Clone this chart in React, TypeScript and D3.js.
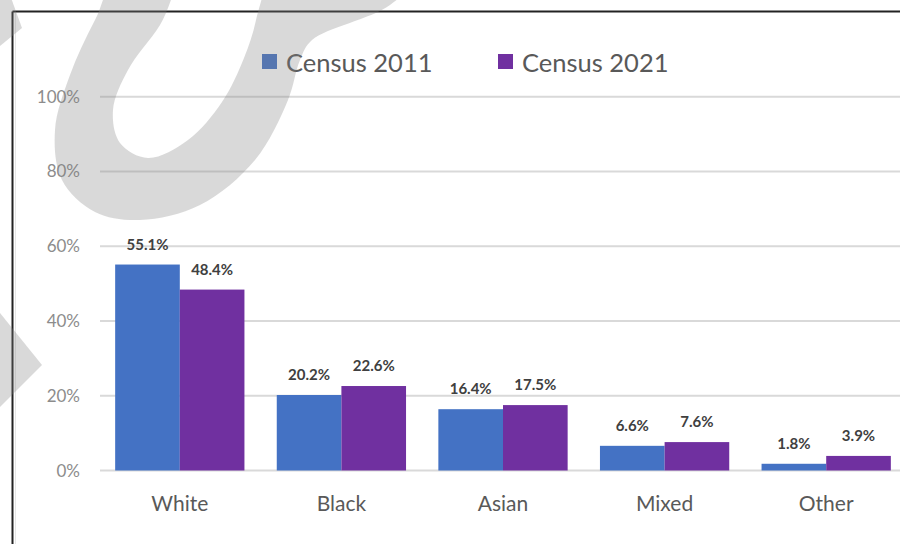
import React from "react";
import * as d3 from "d3";

const categories = ["White", "Black", "Asian", "Mixed", "Other"];
const series2011 = [55.1, 20.2, 16.4, 6.6, 1.8];
const series2021 = [48.4, 22.6, 17.5, 7.6, 3.9];
const seriesNames = ["Census 2011", "Census 2021"];
const seriesColors = ["#4472C4", "#7030A0"];
const yTicks = [0, 20, 40, 60, 80, 100];

// decorative watermark outlines (not data)
const wmOuter: [number, number][] = [
  [125, -30], [95, 20], [70, 75], [55, 130], [62, 180], [95, 212], [140, 220],
  [200, 205], [255, 160], [288, 100], [300, 60], [312, 40], [390, 5], [420, -30],
];
const wmHole: [number, number][] = [
  [190, -30], [160, 25], [128, 70], [113, 110], [120, 143], [148, 158], [188, 140],
  [222, 102], [244, 58], [256, 20], [262, -30],
];

const W = 900;
const H = 544;
const font = "Lato, 'Open Sans', sans-serif";

export default function App() {
  const x0 = d3.scaleBand<string>().domain(categories).range([99, 907]).paddingInner(0.2).paddingOuter(0.1);
  const x1 = d3.scaleBand<string>().domain(seriesNames).range([0, x0.bandwidth()]);
  const y = d3.scaleLinear().domain([0, 100]).range([470.5, 96.7]);
  const data = [series2011, series2021];
  const closed = d3.line().curve(d3.curveCatmullRomClosed);

  return (
    <svg width={W} height={H} style={{ position: "absolute", left: 0, top: 0, background: "#fff" }}>
      <rect x={0} y={0} width={W} height={H} fill="#fff" />
      {/* frame */}
      <line x1={12.5} x2={W} y1={11.5} y2={11.5} stroke="#222" strokeWidth={2} />
      <line x1={12.5} x2={12.5} y1={11.5} y2={H} stroke="#222" strokeWidth={2} />
      <line x1={15.5} x2={15.5} y1={13} y2={H} stroke="#e6e6e6" strokeWidth={1} />
      {/* gridlines */}
      {yTicks.map((t) => (
        <g key={t}>
          <line x1={100} x2={W} y1={y(t)} y2={y(t)} stroke="#d9d9d9" strokeWidth={2} />
          <text x={80} y={y(t) + 6} textAnchor="end" fontFamily={font} fontSize={17} fill="#8c8c8c">
            {t}%
          </text>
        </g>
      ))}
      {/* bars */}
      {categories.map((c, i) => (
        <g key={c} transform={`translate(${x0(c)},0)`}>
          {data.map((s, j) => {
            const bx = x1(seriesNames[j])!;
            const top = y(s[i]);
            return (
              <g key={j}>
                <rect x={bx} y={top} width={x1.bandwidth()} height={y(0) - top} fill={seriesColors[j]} />
                <text x={bx + x1.bandwidth() / 2} y={top - 15} textAnchor="middle" fontFamily={font}
                  fontSize={15} fontWeight={700} fill="#404040">
                  {s[i].toFixed(1)}%
                </text>
              </g>
            );
          })}
          <text x={x0.bandwidth() / 2} y={511} textAnchor="middle" fontFamily={font} fontSize={21} fill="#595959">
            {c}
          </text>
        </g>
      ))}
      {/* legend */}
      {seriesNames.map((n, j) => (
        <g key={n} transform={`translate(${262 + j * 236},0)`}>
          <rect x={0} y={54} width={15} height={15} fill={seriesColors[j]} />
          <text x={24} y={72} fontFamily={font} fontSize={25.5} fill="#595959">
            {n}
          </text>
        </g>
      ))}
      {/* watermark */}
      <path d={closed(wmOuter)! + closed(wmHole)!} fill="rgba(128,128,128,0.3)" fillRule="evenodd" />
      <polygon points="0,-5 10,-5 22,28 0,46" fill="rgba(128,128,128,0.3)" />
      <polygon points="0,313 42,365 0,407" fill="rgba(128,128,128,0.3)" />
    </svg>
  );
}
